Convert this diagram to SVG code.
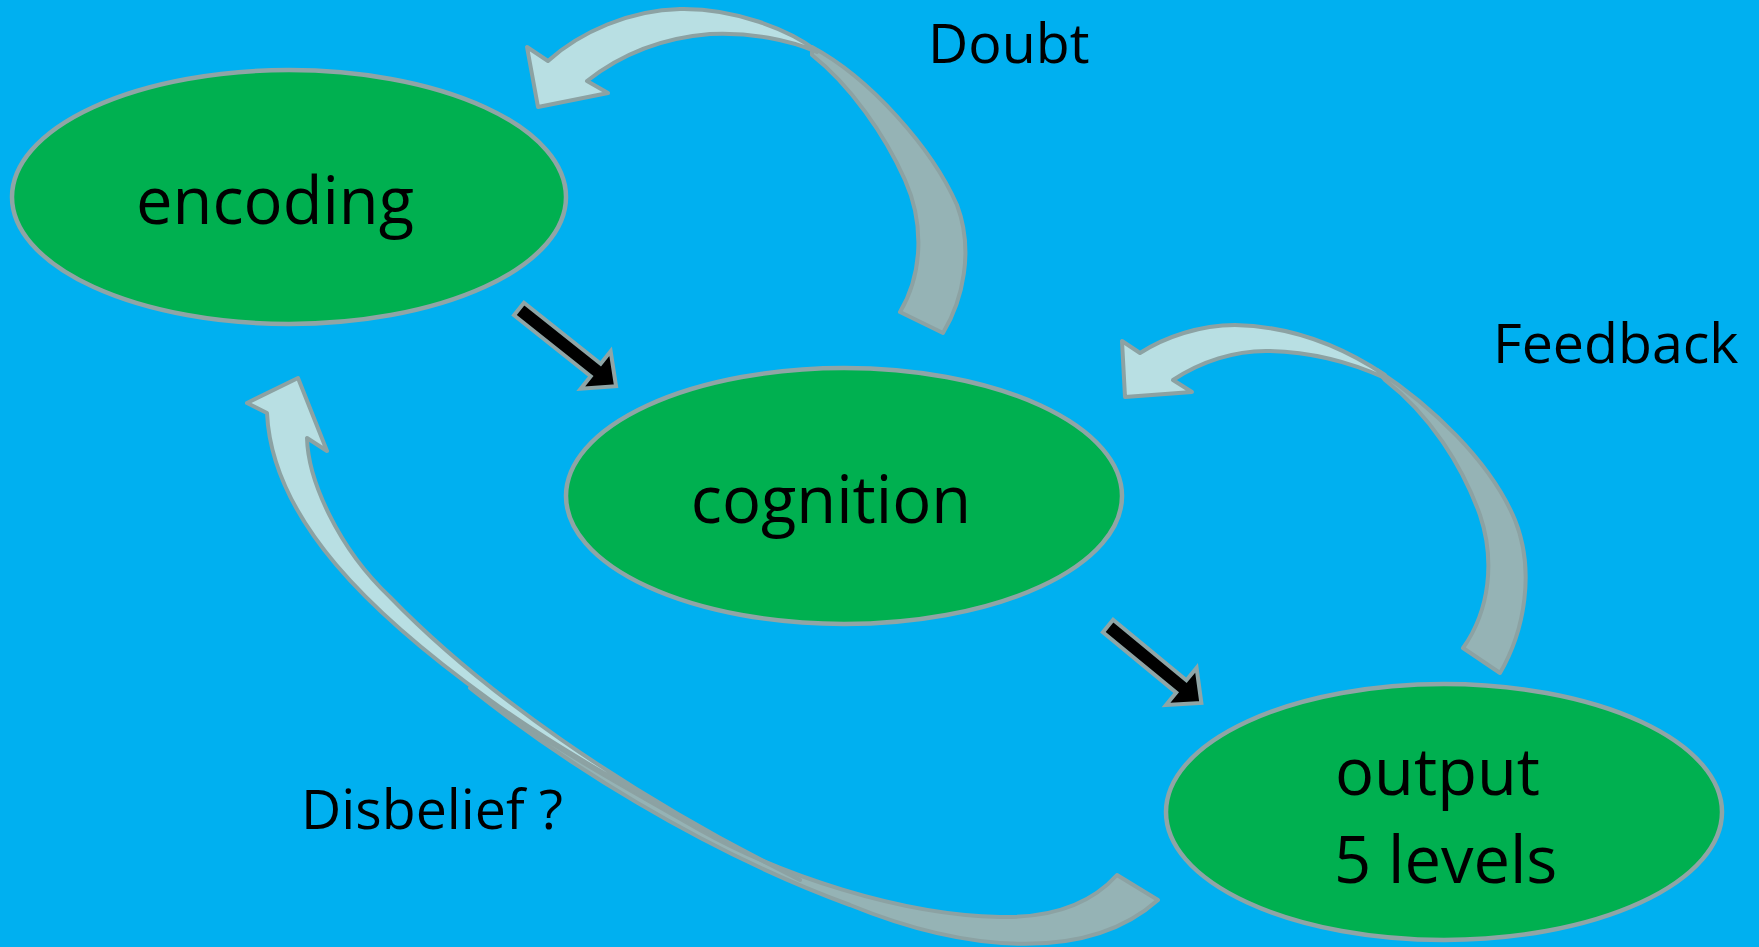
<svg xmlns="http://www.w3.org/2000/svg" width="1759" height="947" viewBox="0 0 1759 947">
<style>
.node{fill:#00B050;stroke:#8FA5A6;stroke-width:4.5}
.nt{font-family:"Open Sans","Noto Sans",sans-serif;font-size:65px;fill:#000}
.lbl{font-family:"Open Sans","Noto Sans",sans-serif;font-size:55.5px;fill:#000}
.lt{fill:#B8DFE3;stroke:#8CA2A3;stroke-width:4;stroke-linejoin:round}
.dk{fill:#95B3B5;stroke:#8CA2A3;stroke-width:4;stroke-linejoin:round}
.blk{fill:#000;stroke:#8FA5A6;stroke-width:4;stroke-linejoin:miter}
</style>
<defs>
<path id="arrowA" d="M0,-8 L98,-8 L98,-24 L124,0 L98,24 L98,8 L0,8 Z"/>
<path id="arrowB" d="M0,-8 L95,-8 L95,-24 L121,0 L95,24 L95,8 L0,8 Z"/>
</defs>
<rect x="0" y="0" width="1759" height="947" fill="#00B0F0"/>

<g id="node-encoding">
<ellipse class="node" cx="289" cy="197" rx="277" ry="127"/>
<text class="nt" x="275" y="224" text-anchor="middle">encoding</text>
</g>
<g id="node-cognition">
<ellipse class="node" cx="844" cy="496" rx="278" ry="128"/>
<text class="nt" x="831" y="523" text-anchor="middle">cognition</text>
</g>
<g id="node-output">
<ellipse class="node" cx="1444" cy="812" rx="278" ry="128"/>
<text class="nt" x="1335" y="795">output</text>
<text class="nt" x="1334" y="883">5 levels</text>
</g>

<g id="connectors">
<use href="#arrowA" class="blk" transform="translate(519,309) rotate(38.5)"/>
<use href="#arrowB" class="blk" transform="translate(1108,626) rotate(39.5)"/>

<g id="doubt-arrow">
<path class="dk" d="M812,47 C870,78 932,148 957,205 C974,250 963,300 943,333 L900,312 C922,275 925,225 905,180 C885,135 850,85 812,55 Z"/>
<path class="lt" d="M817,51 C790,30 735,8 680,9 C630,10 580,32 548,61 L527,47 L538,107 L608,93 L587,81 C620,55 660,38 710,34 C750,32 790,40 817,52 Z"/>
</g>
<g id="feedback-arrow">
<path class="dk" d="M1377,370 C1430,405 1490,460 1515,520 C1535,570 1525,630 1500,673 L1463,648 C1490,610 1495,560 1480,515 C1462,465 1430,415 1385,380 Z"/>
<path class="lt" d="M1385,375 C1340,345 1290,326 1235,325 C1200,325 1165,337 1140,353 L1122,341 L1125,397 L1192,392 L1173,380 C1200,362 1235,350 1270,351 C1310,352 1350,362 1385,378 Z"/>
</g>
<g id="disbelief-arrow">
<path class="dk" d="M470,688 C560,760 700,850 850,905 C960,950 1085,965 1158,900 L1117,875 C1090,905 1050,918 1000,917 C900,915 780,875 700,830 C620,785 540,740 470,688 Z"/>
<path class="lt" d="M307,438 C308,480 338,548 390,597 C480,690 620,790 800,880 C680,818 565,755 490,700 C372,615 272,520 267,413 L247,403 L298,378 L327,451 Z"/>
</g>
</g>

<text class="lbl" x="928" y="63">Doubt</text>
<text class="lbl" x="1493" y="363">Feedback</text>
<text class="lbl" x="301" y="829">Disbelief ?</text>
</svg>
